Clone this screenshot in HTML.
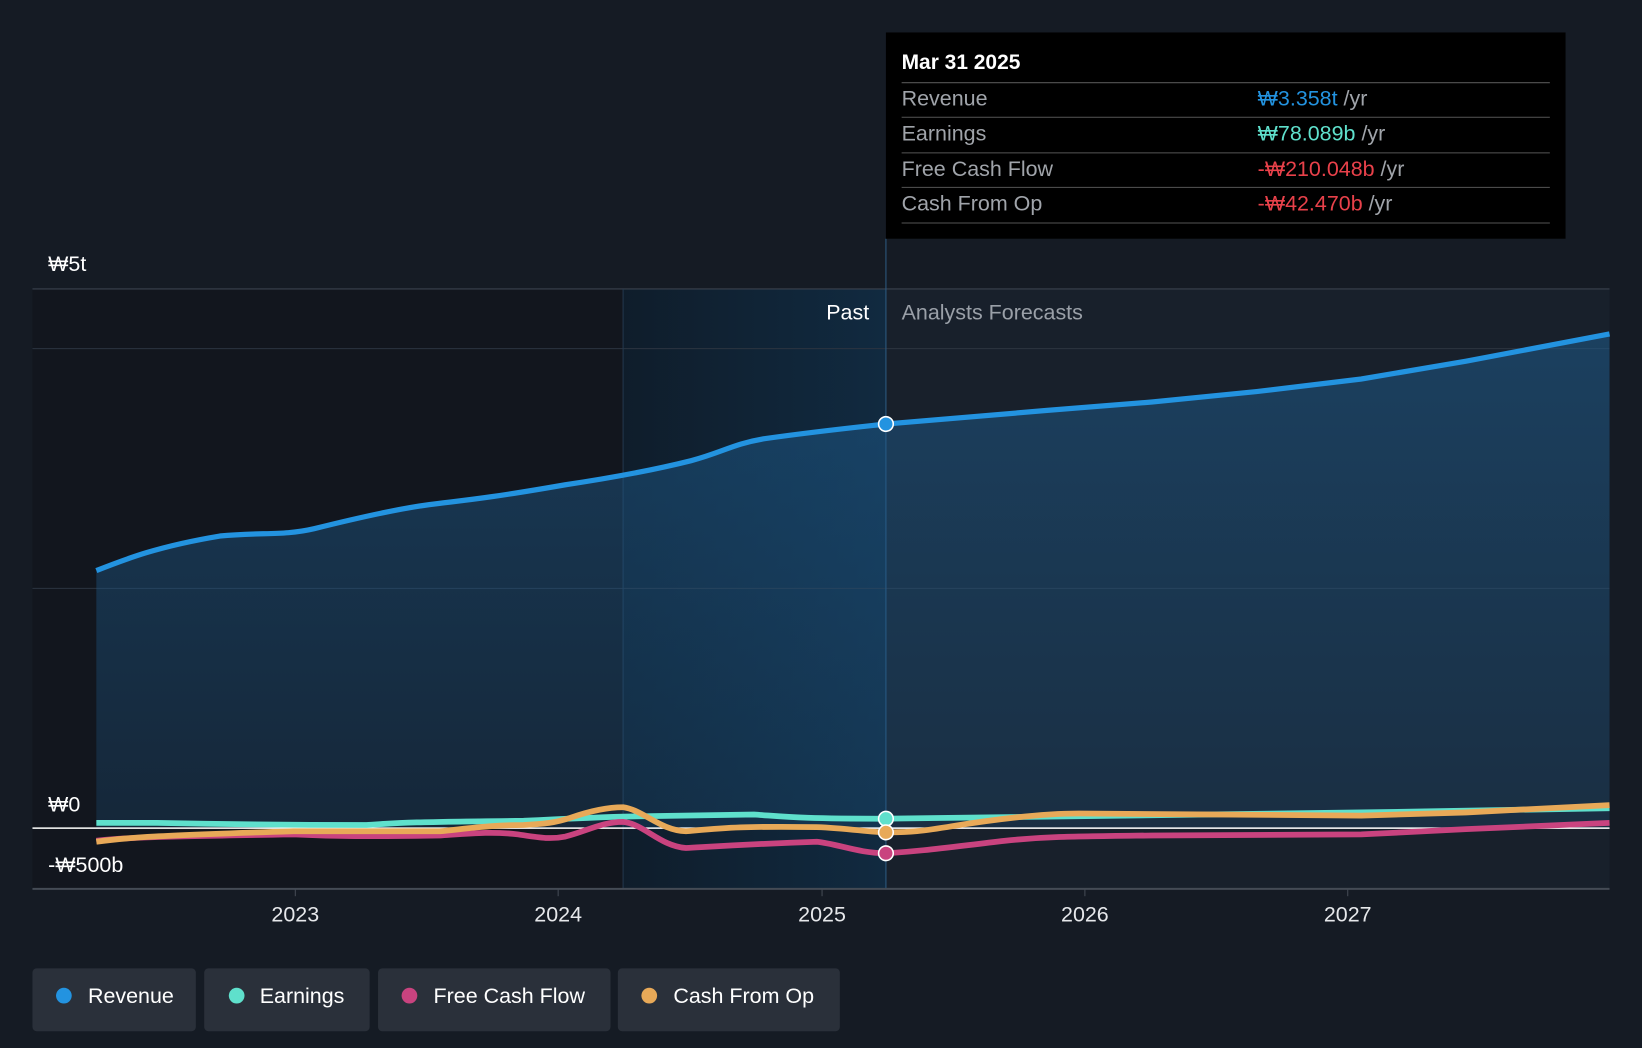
<!DOCTYPE html>
<html><head><style>
html,body{margin:0;padding:0;background:#151b24;}
svg{display:block;font-family:"Liberation Sans","Noto Sans CJK KR",sans-serif;}
</style></head><body>
<svg width="1642" height="1048" viewBox="0 0 1568 1001" preserveAspectRatio="none">
<defs>
<linearGradient id="hl" x1="0" x2="1" y1="0" y2="0"><stop offset="0" stop-color="#0f1d2b"/><stop offset="1" stop-color="#112a40"/></linearGradient>
<linearGradient id="rf" x1="0" x2="0" y1="0" y2="1"><stop offset="0" stop-color="#1e5a8a" stop-opacity="0.55"/><stop offset="1" stop-color="#1e5a8a" stop-opacity="0.25"/></linearGradient>
</defs>
<rect width="1568" height="1001" fill="#151b24"/>
<rect x="31" y="276" width="564" height="573" fill="#12161e"/>
<rect x="595" y="276" width="251" height="573" fill="url(#hl)"/>
<rect x="846" y="276" width="691" height="573" fill="#18202b"/>
<g stroke="#2c3440" stroke-width="1">
<line x1="31" x2="1537" y1="276" y2="276" stroke="#3a424e"/>
<line x1="31" x2="1537" y1="333" y2="333"/>
<line x1="31" x2="1537" y1="562" y2="562"/>
</g>
<line x1="595" x2="595" y1="276" y2="849" stroke="#23384c"/>
<line x1="846" x2="846" y1="228" y2="849" stroke="#2d5a80"/>
<path d="M92,545 C120,534 150,522 210,512 C250,508 270,512 300,505 C340,495 380,486 410,482 C440,478 460,477 540,463 C580,457 620,450 660,440 C690,432 700,424 730,419 C780,412 800,410 846,405 L1000,392 L1100,384 L1200,374 L1300,362 L1400,345 L1537,319 L1537,791 L92,791 Z" fill="url(#rf)"/>
<path d="M92,545 C120,534 150,522 210,512 C250,508 270,512 300,505 C340,495 380,486 410,482 C440,478 460,477 540,463 C580,457 620,450 660,440 C690,432 700,424 730,419 C780,412 800,410 846,405 L1000,392 L1100,384 L1200,374 L1300,362 L1400,345 L1537,319" fill="none" stroke="#2393e0" stroke-width="5"/>
<line x1="31" x2="1537" y1="791" y2="791" stroke="#ffffff" stroke-width="1.5"/>
<line x1="31" x2="1537" y1="849" y2="849" stroke="#444b55" stroke-width="2"/>
<path d="M92,786 L150,786 C200,787 250,788 350,788 C380,786 390,785 500,784 C540,782 560,781 595,780 L720,778 C750,780 760,782 846,782 L1000,780 L1300,776 L1537,772" fill="none" stroke="#5fe0cc" stroke-width="5.5"/>
<path d="M92,803 C120,800 150,799 280,797 C320,799 350,799 420,798 C450,796 470,794 495,797 C515,800 525,802 540,799 C560,794 575,785 595,785 C615,787 630,808 655,810 C690,808 720,806 780,804 C800,806 820,815 846,815 C880,813 900,810 960,803 C1000,799 1020,799 1100,798 L1300,797 L1400,792 L1537,786" fill="none" stroke="#c9437f" stroke-width="5.5"/>
<path d="M92,804 C120,800 150,798 280,794 L420,794 C450,791 470,788 500,788 C520,787 530,786 545,781 C565,774 580,771 595,771 C615,774 630,793 655,794 C690,791 705,789 780,790 C810,791 830,795 846,795 C870,795 880,794 910,789 C960,781 1000,777 1030,777 L1300,779 L1400,776 L1537,769" fill="none" stroke="#e8a958" stroke-width="5.5"/>
<g stroke="#fff" stroke-width="1.5">
<circle cx="846" cy="405" r="7" fill="#2393e0"/>
<circle cx="846" cy="782" r="7" fill="#5fe0cc"/>
<circle cx="846" cy="795" r="7" fill="#e8a958"/>
<circle cx="846" cy="815" r="7" fill="#c9437f"/>
</g>
<g font-size="20.5">
<text x="46" y="259" fill="#fff">₩5t</text>
<text x="46" y="775" fill="#fff">₩0</text>
<text x="46" y="833" fill="#fff">-₩500b</text>
<text x="830" y="305" fill="#fff" text-anchor="end">Past</text>
<text x="861" y="305" fill="#9aa0a8">Analysts Forecasts</text>
</g>
<g fill="#e6e8eb" font-size="20.5" text-anchor="middle">
<text x="282" y="880">2023</text><text x="533" y="880">2024</text><text x="785" y="880">2025</text><text x="1036" y="880">2026</text><text x="1287" y="880">2027</text>
</g>
<g stroke="#444b55"><line x1="282" x2="282" y1="849" y2="856"/><line x1="533" x2="533" y1="849" y2="856"/><line x1="785" x2="785" y1="849" y2="856"/><line x1="1036" x2="1036" y1="849" y2="856"/><line x1="1287" x2="1287" y1="849" y2="856"/></g>
<rect x="846" y="31" width="649" height="197" fill="#000"/>
<text x="861" y="66" fill="#fff" font-size="20" font-weight="bold">Mar 31 2025</text>
<g stroke="#555" stroke-width="1"><line x1="861" x2="1480" y1="79" y2="79"/><line x1="861" x2="1480" y1="112" y2="112"/><line x1="861" x2="1480" y1="146" y2="146"/><line x1="861" x2="1480" y1="179" y2="179"/><line x1="861" x2="1480" y1="213" y2="213"/></g>
<g font-size="20.5">
<text x="861" y="101" fill="#a0a4aa">Revenue</text><text x="1201" y="101" fill="#2393e0">₩3.358t <tspan fill="#a0a4aa">/yr</tspan></text>
<text x="861" y="134" fill="#a0a4aa">Earnings</text><text x="1201" y="134" fill="#5fe0cc">₩78.089b <tspan fill="#a0a4aa">/yr</tspan></text>
<text x="861" y="168" fill="#a0a4aa">Free Cash Flow</text><text x="1201" y="168" fill="#e8414a">-₩210.048b <tspan fill="#a0a4aa">/yr</tspan></text>
<text x="861" y="201" fill="#a0a4aa">Cash From Op</text><text x="1201" y="201" fill="#e8414a">-₩42.470b <tspan fill="#a0a4aa">/yr</tspan></text>
</g>
<g font-size="20.5" fill="#fff">
<rect x="31" y="925" width="156" height="60" rx="4" fill="#2a303a"/><circle cx="61" cy="951" r="7.5" fill="#2393e0"/><text x="84" y="958">Revenue</text>
<rect x="195" y="925" width="158" height="60" rx="4" fill="#2a303a"/><circle cx="226" cy="951" r="7.5" fill="#5fe0cc"/><text x="248" y="958">Earnings</text>
<rect x="361" y="925" width="222" height="60" rx="4" fill="#2a303a"/><circle cx="391" cy="951" r="7.5" fill="#c9437f"/><text x="414" y="958">Free Cash Flow</text>
<rect x="590" y="925" width="212" height="60" rx="4" fill="#2a303a"/><circle cx="620" cy="951" r="7.5" fill="#e8a958"/><text x="643" y="958">Cash From Op</text>
</g>
</svg>
</body></html>
